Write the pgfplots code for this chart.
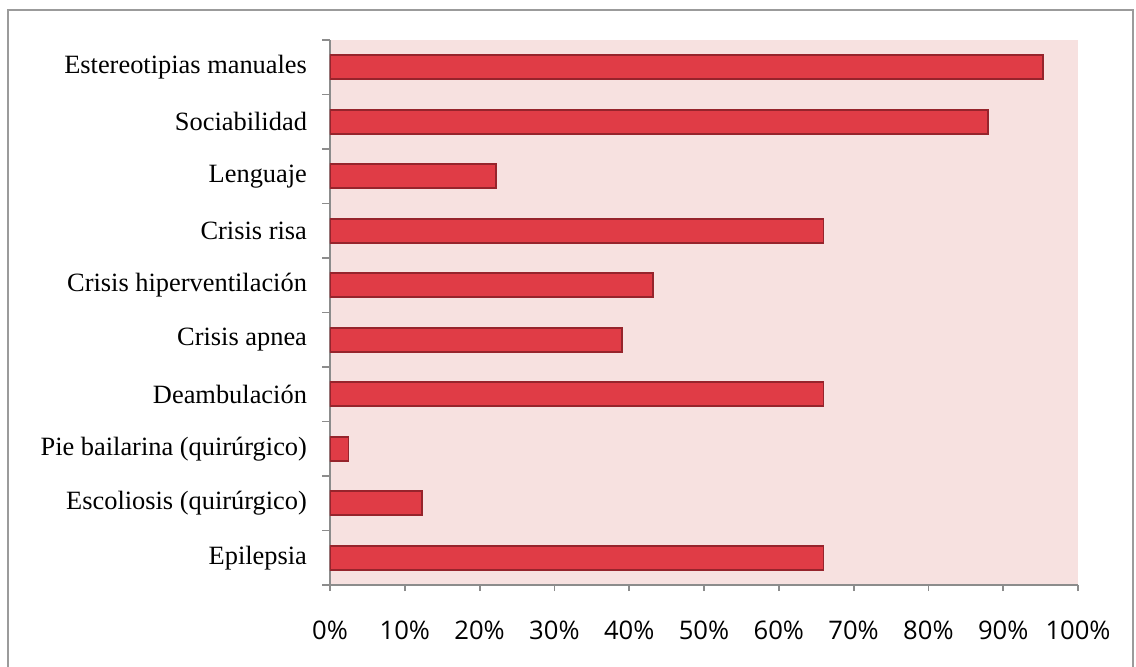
\documentclass[border=0pt]{standalone}
\usepackage{pgfplots}
\pgfplotsset{compat=1.18}
\usepackage{fontspec}
\setmainfont{Liberation Serif}
\newfontfamily\tickfont{Open Sans}
\definecolor{bgpink}{RGB}{247,225,224}
\definecolor{barfill}{RGB}{224,60,70}
\definecolor{barline}{RGB}{150,36,44}
\definecolor{axgray}{RGB}{140,140,140}
\definecolor{framegray}{RGB}{155,155,155}
\begin{document}
\begin{tikzpicture}
\useasboundingbox (0pt,0pt) rectangle (568pt,333pt);
\draw[framegray, line width=1.2pt] (4pt,-5pt) -- (4pt,328pt) -- (566.5pt,328pt) -- (566.5pt,-5pt);
\begin{axis}[
  at={(165pt,40.5pt)}, anchor=south west,
  scale only axis, width=374pt, height=272.5pt,
  xbar, bar width=12pt,
  xmin=0, xmax=100, ymin=-0.5, ymax=9.5,
  axis background/.style={fill=bgpink},
  axis x line*=bottom, axis y line*=left,
  axis line style={axgray, line width=0.9pt, -},
  tick align=outside, major tick length=3pt,
  xtick={0,10,...,100},
  xticklabels={0\%,10\%,20\%,30\%,40\%,50\%,60\%,70\%,80\%,90\%,100\%},
  xticklabel style={font=\tickfont\fontsize{12.8pt}{14pt}\selectfont, yshift=-11.5pt, text=black},
  xtick style={draw=axgray, line width=0.9pt},
  ytick={0,...,9},
  yticklabels={Epilepsia, Escoliosis (quirúrgico), Pie bailarina (quirúrgico), Deambulación, Crisis apnea, Crisis hiperventilación, Crisis risa, Lenguaje, Sociabilidad, Estereotipias manuales},
  yticklabel style={font=\fontsize{13.2pt}{15pt}\selectfont, xshift=-5pt, text=black},
  ytick style={draw=none},
  extra y ticks={-0.5,0.5,...,9.5},
  extra y tick labels={},
  extra y tick style={ytick style={draw=axgray, line width=0.9pt}, major tick length=4pt},
]
\addplot[fill=barfill, draw=barline, line width=0.8pt] coordinates {
  (66,0) (12.3,1) (2.5,2) (66,3) (39,4) (43.2,5) (66,6) (22.2,7) (88,8) (95.3,9)};
\end{axis}
\end{tikzpicture}
\end{document}
